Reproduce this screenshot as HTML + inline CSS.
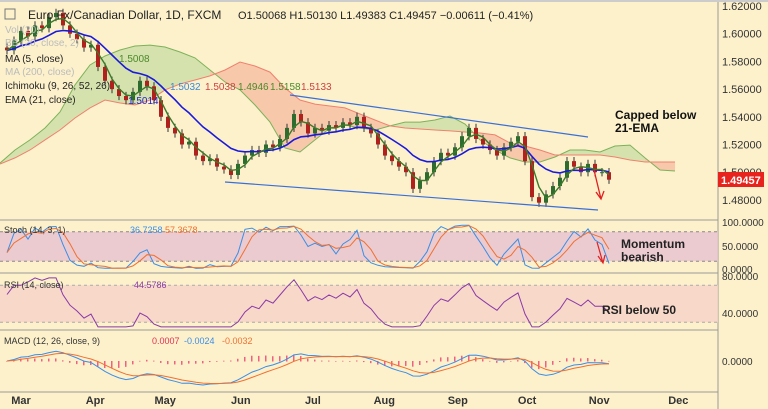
<!DOCTYPE html>
<html><head><meta charset="utf-8"><style>
body{margin:0;background:#fdf1cc;}
svg{display:block;font-family:"Liberation Sans",sans-serif;}
</style></head><body>
<svg id="c" width="768" height="409" viewBox="0 0 768 409"></svg>
<script>
const closes=[1.588,1.595,1.602,1.598,1.606,1.604,1.612,1.615,1.606,1.600,1.596,1.590,1.592,1.576,1.566,1.560,1.555,1.552,1.558,1.566,1.562,1.552,1.540,1.532,1.528,1.520,1.522,1.512,1.508,1.510,1.504,1.502,1.498,1.506,1.512,1.516,1.514,1.520,1.518,1.524,1.532,1.542,1.536,1.528,1.532,1.530,1.534,1.532,1.536,1.534,1.540,1.532,1.528,1.520,1.512,1.508,1.504,1.500,1.488,1.494,1.500,1.508,1.514,1.512,1.518,1.526,1.532,1.524,1.520,1.516,1.512,1.518,1.522,1.526,1.508,1.482,1.478,1.484,1.490,1.496,1.508,1.504,1.500,1.506,1.500,1.500,1.4946];
// Ichimoku leading spans (as drawn, incl. displacement), one value per 15px step
const spanA=[1.5066,1.5160,1.5233,1.5319,1.5435,1.5630,1.5774,1.5839,1.5882,1.5911,1.5918,1.5904,1.5868,1.5825,1.5738,1.5651,1.5594,1.5485,1.5362,1.5175,1.5146,1.5233,1.5319,1.5341,1.5319,1.5305,1.5334,1.5362,1.5362,1.5377,1.5406,1.5348,1.5233,1.5160,1.5103,1.5074,1.5074,1.5110,1.5160,1.5160,1.5146,1.5189,1.5196,1.5103,1.5016,1.5009];
const spanB=[1.5059,1.5103,1.5160,1.5233,1.5305,1.5391,1.5464,1.5521,1.5500,1.5485,1.5521,1.5594,1.5637,1.5666,1.5695,1.5738,1.5796,1.5767,1.5723,1.5608,1.5521,1.5492,1.5478,1.5464,1.5420,1.5377,1.5334,1.5319,1.5312,1.5305,1.5298,1.5290,1.5283,1.5269,1.5211,1.5189,1.5160,1.5124,1.5124,1.5124,1.5124,1.5110,1.5088,1.5074,1.5074,1.5074];
const priceTicks=[1.62,1.60,1.58,1.56,1.54,1.52,1.50,1.48];
const months=["Mar","Apr","May","Jun","Jul","Aug","Sep","Oct","Nov","Dec"];
const monthIdx=[2,12.6,22.6,33.4,43.7,53.9,64.4,74.3,84.6,95.9];
const NS="http://www.w3.org/2000/svg",S=document.getElementById('c');
function el(t,a,txt){const e=document.createElementNS(NS,t);for(const k in a)e.setAttribute(k,a[k]);if(txt!=null)e.textContent=txt;S.appendChild(e);return e;}
const X=i=>7+7*i, Y=p=>6+(1.62-p)/0.02*27.7, CX=j=>15*j;
const pts=(arr,fx,fy)=>arr.map((v,i)=>fx(i).toFixed(1)+','+fy(v).toFixed(1)).join(' ');
function ema(a,n){const k=2/(n+1);let r=[],e=a[0];a.forEach((v,i)=>{e=i?v*k+e*(1-k):v;r.push(e)});return r;}
function sma(a,n){return a.map((v,i)=>{const s=a.slice(Math.max(0,i-n+1),i+1);return s.reduce((x,y)=>x+y,0)/s.length});}
const opens=closes.map((c,i)=>i?closes[i-1]:c+0.002);
const hi=closes.map((c,i)=>Math.max(c,opens[i])+0.003), lo=closes.map((c,i)=>Math.min(c,opens[i])-0.003);
function hl(i,n){const s=i-n+1<0?0:i-n+1;return [Math.max(...hi.slice(s,i+1)),Math.min(...lo.slice(s,i+1))];}
// cloud
for(let j=0;j<spanA.length-1;j++){const x1=CX(j),x2=CX(j+1);const a1=spanA[j],a2=spanA[j+1],b1=spanB[j],b2=spanB[j+1];
 const up=(a1+a2)>=(b1+b2);
 const p=el('polygon',{points:`${x1},${Y(a1)} ${x2},${Y(a2)} ${x2},${Y(b2)} ${x1},${Y(b1)}`,fill:up?'#d6e2ad':'#f8c8aa',stroke:'none'});
 }
el('polyline',{points:pts(spanA,CX,Y),fill:'none',stroke:'#7cb25a','stroke-width':1,});
el('polyline',{points:pts(spanB,CX,Y),fill:'none',stroke:'#f08070','stroke-width':1,});
// panel separators and axis
[220,273,330,392].forEach(y=>el('line',{x1:0,x2:718,y1:y,y2:y,stroke:'#999','stroke-width':1}));
el('line',{x1:718,x2:718,y1:0,y2:409,stroke:'#999'});
el('rect',{x:0,y:0,width:768,height:2,fill:'#ccc'});
priceTicks.forEach(p=>el('text',{x:722,y:Y(p)+4,'font-size':11,fill:'#333'},p.toFixed(5)));
months.forEach((m,j)=>el('text',{x:X(monthIdx[j]),y:404,'font-size':11,fill:'#333','text-anchor':'middle','font-weight':'bold'},m));
// candles
closes.forEach((c,i)=>{const up=c>=opens[i],col=up?'#2e6b2e':'#b0201c';
 const ln=el('line',{x1:X(i),x2:X(i),y1:Y(hi[i]),y2:Y(lo[i]),stroke:'#333','stroke-width':1});
 
 const r=el('rect',{x:X(i)-2,y:Y(Math.max(c,opens[i])),width:4,height:Math.max(1,Math.abs(Y(c)-Y(opens[i]))),fill:col});
 });
el('polyline',{points:pts(ema(closes,11),X,Y),fill:'none',stroke:'#1a1adb','stroke-width':1.6,});
el('polyline',{points:pts(sma(closes,3),X,Y),fill:'none',stroke:'#3a7a2a','stroke-width':1.4,});
el('line',{x1:290,y1:95,x2:588,y2:137,stroke:'#3a6fd8','stroke-width':1.2,});
el('line',{x1:225,y1:182,x2:598,y2:210,stroke:'#3a6fd8','stroke-width':1.2,});
el('path',{d:'M594,170 L601,199 M596,192 L601,199 L604,191',stroke:'#e02020',fill:'none','stroke-width':1.3,});
el('text',{x:615,y:119,'font-size':12,'font-weight':'bold',fill:'#111',},'Capped below');
el('text',{x:615,y:132,'font-size':12,'font-weight':'bold',fill:'#111'},'21-EMA');
el('rect',{x:718,y:172,width:46,height:15,fill:'#e8221c',});
el('text',{x:721,y:184,'font-size':11,'font-weight':'bold',fill:'#fff'},'1.49457');
// legend
el('text',{x:28,y:19,'font-size':12,fill:'#222',},'Euro Fx/Canadian Dollar, 1D, FXCM');
el('text',{x:238,y:19,'font-size':11,fill:'#222'},'O1.50068  H1.50130  L1.49383  C1.49457  −0.00611 (−0.41%)');
el('rect',{x:5,y:9,width:10,height:10,fill:'none',stroke:'#777'});
[['Vol (20)',33,'#bbb'],['BB (20, close, 2)',46,'#bbb'],['MA (5, close)',62,'#222'],['MA (200, close)',75,'#bbb'],['Ichimoku (9, 26, 52, 26)',89,'#222'],['EMA (21, close)',103,'#222']].forEach(a=>el('text',{x:5,y:a[1],'font-size':10,fill:a[2]},a[0]));
el('text',{x:119,y:62,'font-size':10,fill:'#4a8a2a'},'1.5008');
el('text',{x:170,y:90,'font-size':10,fill:'#3a8ad8'},'1.5032');
el('text',{x:205,y:90,'font-size':10,fill:'#d04040'},'1.5038');
el('text',{x:238,y:90,'font-size':10,fill:'#4a8a2a'},'1.4946');
el('text',{x:270,y:90,'font-size':10,fill:'#4a8a2a'},'1.5158');
el('text',{x:301,y:90,'font-size':10,fill:'#d04040'},'1.5133');
el('text',{x:128,y:104,'font-size':10,fill:'#2222cc'},'1.5014');
// stochastic panel
const sY=v=>222+(100-v)*0.49;
el('rect',{x:0,y:sY(80),width:718,height:sY(20)-sY(80),fill:'#e8c4d0',opacity:0.85});
[80,20].forEach(v=>el('line',{x1:0,x2:718,y1:sY(v),y2:sY(v),stroke:'#888','stroke-dasharray':'3,3'}));
const K=closes.map((c,i)=>{const h=hl(i,7);return (c-h[1])/(h[0]-h[1])*100;});
const Dl=sma(K,3);
el('polyline',{points:pts(K,X,sY),fill:'none',stroke:'#3a8ee8',});
el('polyline',{points:pts(Dl,X,sY),fill:'none',stroke:'#f07030',});
el('text',{x:4,y:233,'font-size':9,fill:'#333'},'Stoch (14, 3, 1)');
el('text',{x:130,y:233,'font-size':9,fill:'#3a8ee8'},'36.7258');
el('text',{x:165,y:233,'font-size':9,fill:'#f07030'},'57.3678');
el('text',{x:621,y:248,'font-size':12,'font-weight':'bold',fill:'#222'},'Momentum');
el('text',{x:621,y:261,'font-size':12,'font-weight':'bold',fill:'#222'},'bearish');
el('path',{d:'M597,242 L603,263 M598,256 L603,263 L605,255',stroke:'#e02020',fill:'none','stroke-width':1.2});
[['100.0000',226],['50.0000',250],['0.0000',273]].forEach(a=>el('text',{x:722,y:a[1],'font-size':10,fill:'#333'},a[0]));
// RSI panel
const rY=v=>276+(80-v)*0.925;
el('rect',{x:0,y:rY(70),width:718,height:rY(30)-rY(70),fill:'#f6d2c8',opacity:0.8});
[70,30].forEach(v=>el('line',{x1:0,x2:718,y1:rY(v),y2:rY(v),stroke:'#aaa','stroke-dasharray':'3,3'}));
let g=0,l=0;const rsi=closes.map((c,i)=>{if(!i)return 60;const d=c-closes[i-1];g=(g*6+Math.max(d,0))/7;l=(l*6+Math.max(-d,0))/7;return l?100-100/(1+g/l):70;});
el('polyline',{points:pts(rsi.map(v=>Math.max(25,Math.min(78,v))),X,rY),fill:'none',stroke:'#8a3aa8',});
el('text',{x:4,y:288,'font-size':9,fill:'#333'},'RSI (14, close)');
el('text',{x:134,y:288,'font-size':9,fill:'#8a3aa8'},'44.5786');
el('text',{x:602,y:314,'font-size':12,'font-weight':'bold',fill:'#222',},'RSI below 50');
[['80.0000',280],['40.0000',317]].forEach(a=>el('text',{x:722,y:a[1],'font-size':10,fill:'#333'},a[0]));
// MACD panel
const e12=ema(closes,6),e26=ema(closes,13),macd=e12.map((v,i)=>v-e26[i]),sig=ema(macd,5);
const mx=Math.max(...macd.map(Math.abs));const mY=v=>361-v/mx*24;
macd.forEach((v,i)=>{const h=v-sig[i];const r=el('rect',{x:X(i)-1,y:Math.min(361,mY(h)),width:1.5,height:Math.abs(mY(h)-361)+0.5,fill:'#f06080'});});
el('polyline',{points:pts(macd,X,mY),fill:'none',stroke:'#3a8ee8',});
el('polyline',{points:pts(sig,X,mY),fill:'none',stroke:'#f07030',});
el('text',{x:4,y:344,'font-size':9,fill:'#333'},'MACD (12, 26, close, 9)');
el('text',{x:152,y:344,'font-size':9,fill:'#e03050'},'0.0007');
el('text',{x:184,y:344,'font-size':9,fill:'#3a8ee8'},'-0.0024');
el('text',{x:222,y:344,'font-size':9,fill:'#f07030'},'-0.0032');
el('text',{x:722,y:365,'font-size':10,fill:'#333'},'0.0000');
</script>
</body></html>
